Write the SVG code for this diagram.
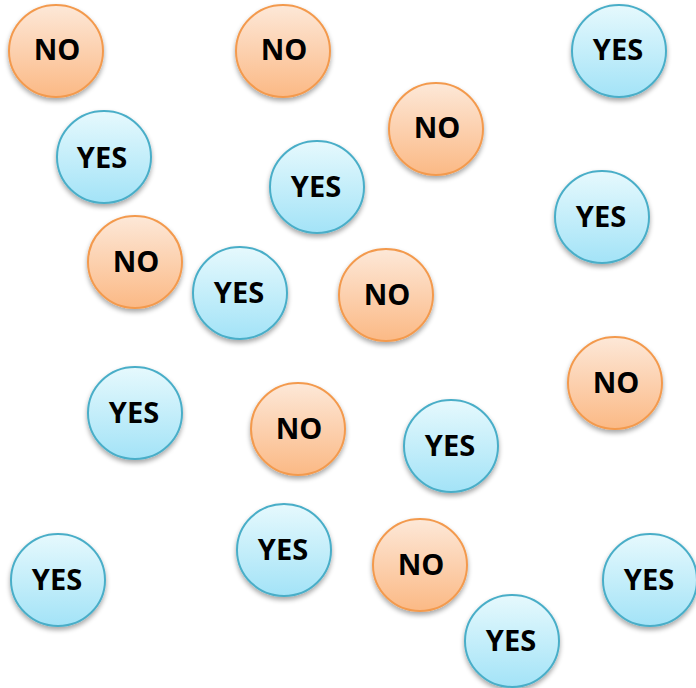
<svg xmlns="http://www.w3.org/2000/svg" width="696" height="688" viewBox="0 0 696 688">
<defs>
<linearGradient id="gno" x1="0" y1="0" x2="0" y2="1">
<stop offset="0" stop-color="#fde8d8"/><stop offset="1" stop-color="#fbb985"/>
</linearGradient>
<linearGradient id="gyes" x1="0" y1="0" x2="0" y2="1">
<stop offset="0" stop-color="#e6f9fd"/><stop offset="1" stop-color="#a3e3f7"/>
</linearGradient>
<filter id="sh" x="-30%" y="-30%" width="160%" height="170%">
<feGaussianBlur in="SourceAlpha" stdDeviation="2.5"/>
<feOffset dy="3" result="b"/>
<feComponentTransfer><feFuncA type="linear" slope="0.35"/></feComponentTransfer>
<feMerge><feMergeNode/><feMergeNode in="SourceGraphic"/></feMerge>
</filter>
</defs>
<style>
.no ellipse{fill:url(#gno);stroke:#f39a4e;stroke-width:2;filter:url(#sh)}
.yes ellipse{fill:url(#gyes);stroke:#4aaec8;stroke-width:2;filter:url(#sh)}
text{font-family:"Open Sans","Noto Sans",sans-serif;font-weight:bold;font-size:29px;fill:#000;text-anchor:middle}
</style>
<g id="connectors"/>
<g id="n1" class="no"><ellipse cx="56" cy="51" rx="47" ry="46"/><text x="57" y="60">NO</text></g>
<g id="n2" class="no"><ellipse cx="283" cy="51" rx="47" ry="46"/><text x="284" y="60">NO</text></g>
<g id="n3" class="yes"><ellipse cx="619" cy="51" rx="47" ry="46"/><text x="618" y="60">YES</text></g>
<g id="n4" class="no"><ellipse cx="436" cy="129" rx="47" ry="46"/><text x="437" y="138">NO</text></g>
<g id="n5" class="yes"><ellipse cx="104" cy="157" rx="47" ry="46"/><text x="102" y="168">YES</text></g>
<g id="n6" class="yes"><ellipse cx="317" cy="187" rx="47" ry="46"/><text x="316" y="197">YES</text></g>
<g id="n7" class="yes"><ellipse cx="602" cy="217" rx="47" ry="46"/><text x="601" y="227">YES</text></g>
<g id="n8" class="no"><ellipse cx="135" cy="262" rx="47" ry="46"/><text x="136" y="272">NO</text></g>
<g id="n9" class="yes"><ellipse cx="240" cy="293" rx="47" ry="46"/><text x="239" y="303">YES</text></g>
<g id="n10" class="no"><ellipse cx="386" cy="295" rx="47" ry="46"/><text x="387" y="305">NO</text></g>
<g id="n11" class="no"><ellipse cx="615" cy="383" rx="47" ry="46"/><text x="616" y="393">NO</text></g>
<g id="n12" class="yes"><ellipse cx="135" cy="413" rx="47" ry="46"/><text x="134" y="423">YES</text></g>
<g id="n13" class="no"><ellipse cx="298" cy="429" rx="47" ry="46"/><text x="299" y="439">NO</text></g>
<g id="n14" class="yes"><ellipse cx="451" cy="446" rx="47" ry="46"/><text x="450" y="456">YES</text></g>
<g id="n15" class="yes"><ellipse cx="284" cy="550" rx="47" ry="46"/><text x="283" y="560">YES</text></g>
<g id="n16" class="no"><ellipse cx="420" cy="565" rx="47" ry="46"/><text x="421" y="575">NO</text></g>
<g id="n17" class="yes"><ellipse cx="58" cy="580" rx="47" ry="46"/><text x="57" y="590">YES</text></g>
<g id="n18" class="yes"><ellipse cx="650" cy="580" rx="47" ry="46"/><text x="649" y="590">YES</text></g>
<g id="n19" class="yes"><ellipse cx="512" cy="641" rx="47" ry="46"/><text x="511" y="651">YES</text></g>
</svg>
